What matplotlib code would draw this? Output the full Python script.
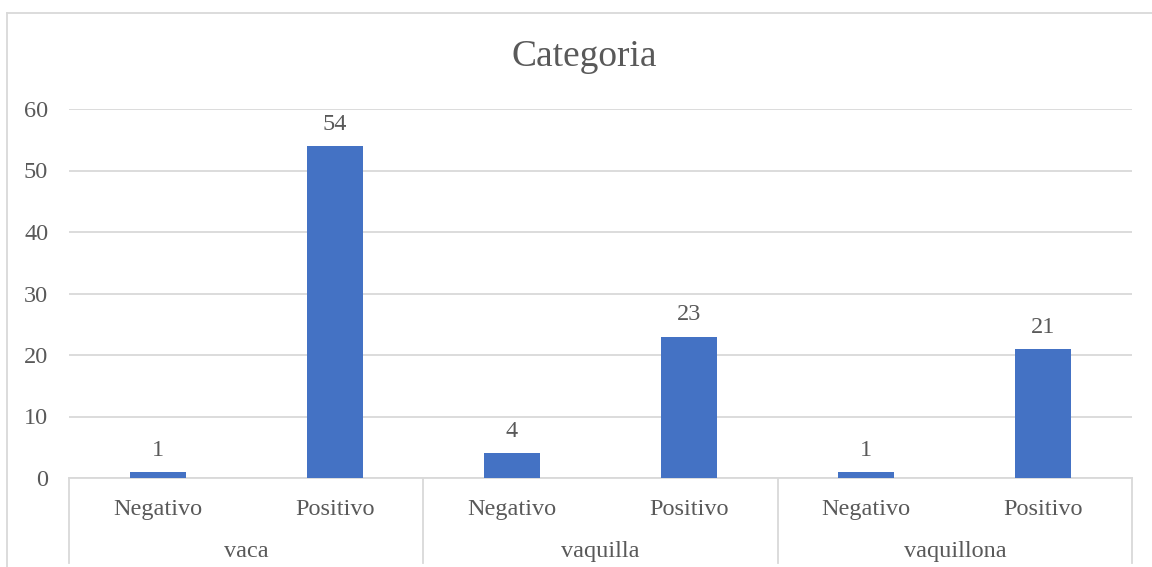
import matplotlib
matplotlib.use("Agg")
import matplotlib.pyplot as plt
from matplotlib.lines import Line2D

groups = ["vaca", "vaquilla", "vaquillona"]
results = ["Negativo", "Positivo"]
counts = [[1, 54], [4, 23], [1, 21]]
y_ticks = [0, 10, 20, 30, 40, 50, 60]

W, H = 1152, 567
plt.rcParams["font.family"] = ["Liberation Serif", "DejaVu Serif"]
text_c = "#595959"
grid_c = "#D9D9D9"
bar_c = "#4472C4"
fs = 17.5

fig = plt.figure(figsize=(W / 100, H / 100), dpi=100)
x0, x1 = 69, 1132
y_bot, y_top = 478, 109
ax = fig.add_axes([x0 / W, 1 - y_bot / H, (x1 - x0) / W, (y_bot - y_top) / H])

# Flatten the two-level categories into slot positions
labels, values, positions = [], [], []
for gi, g in enumerate(groups):
    for ri, r in enumerate(results):
        positions.append(gi * len(results) + ri)
        labels.append(r)
        values.append(counts[gi][ri])

n = len(positions)
ax.bar(positions, values, width=0.316, color=bar_c, zorder=3)
for p, v in zip(positions, values):
    ax.annotate(str(v), (p, v), xytext=(0, 8), textcoords="offset points",
                ha="center", va="bottom", fontsize=fs, color=text_c)

ax.set_xlim(-0.5, n - 0.5)
ax.set_ylim(0, 60)
ax.set_yticks(y_ticks)
ax.yaxis.grid(True, color=grid_c, linewidth=1.3, zorder=0)
ax.tick_params(axis="y", length=0, labelsize=fs, labelcolor=text_c, pad=15)
ax.set_xticks([])
for s in ["top", "right", "left"]:
    ax.spines[s].set_visible(False)
ax.spines["bottom"].set_color(grid_c)
ax.spines["bottom"].set_linewidth(1.3)

# Category labels beneath the axis
trans = ax.get_xaxis_transform()
span = y_bot - y_top
for p, lab in zip(positions, labels):
    ax.text(p, -(515 - y_bot) / span, lab, transform=trans,
            ha="center", va="baseline", fontsize=fs, color=text_c)
for gi, g in enumerate(groups):
    cx = gi * len(results) + (len(results) - 1) / 2
    ax.text(cx, -(557 - y_bot) / span, g, transform=trans,
            ha="center", va="baseline", fontsize=fs, color=text_c)
# Group separators
for gi in range(len(groups) + 1):
    xs = gi * len(results) - 0.5
    ax.add_line(Line2D([xs, xs], [0, -(563 - y_bot) / span],
                       transform=trans, color=grid_c, linewidth=1.3, clip_on=False))

fig.text(584.5 / W, 1 - 57 / H, "Categoria", ha="center", va="center",
         fontsize=27, color=text_c)

# Chart border
fig.add_artist(Line2D([7 / W, 7 / W], [0, 1 - 13 / H], transform=fig.transFigure,
                      color=grid_c, linewidth=1.3))
fig.add_artist(Line2D([7 / W, 1], [1 - 13 / H, 1 - 13 / H], transform=fig.transFigure,
                      color=grid_c, linewidth=1.3))

fig.savefig("out.png", dpi=100, facecolor="white")
